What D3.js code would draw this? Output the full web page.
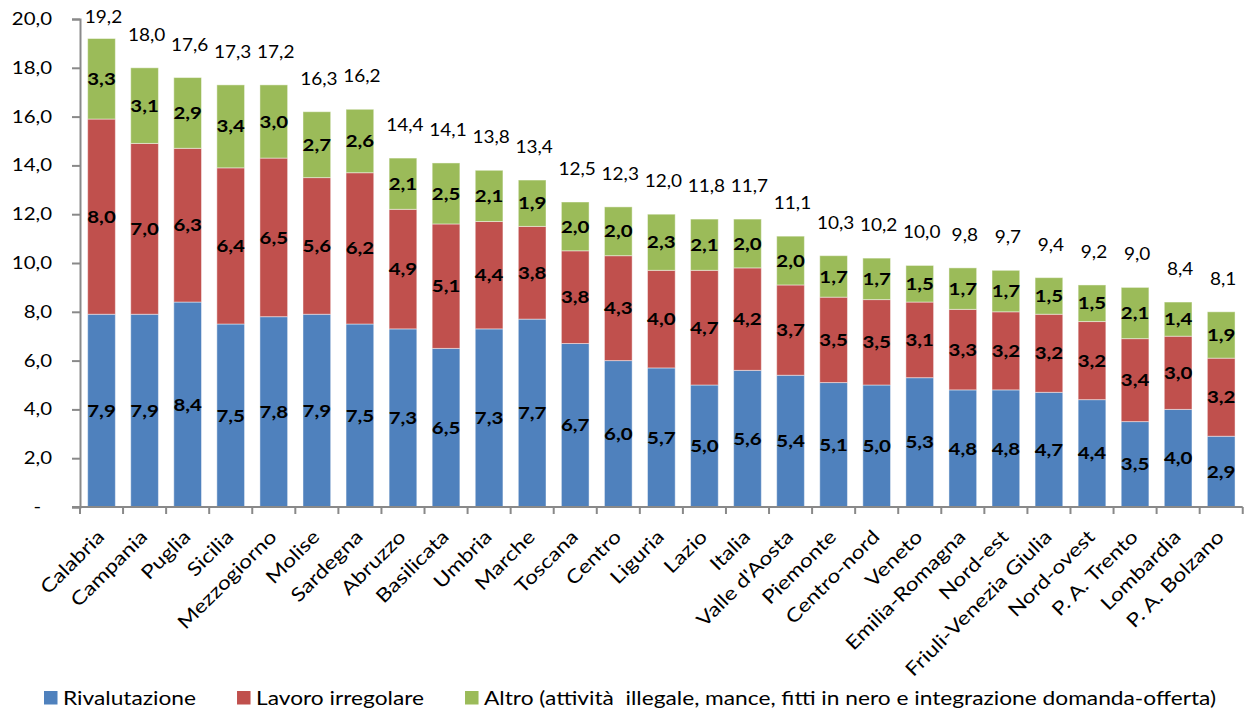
<!DOCTYPE html>
<html>
<head>
<meta charset="utf-8">
<script src="https://cdn.jsdelivr.net/npm/d3@7"></script>
<style>
  body { margin: 0; background: #fff; }
  svg { display: block; font-family: Lato, "Open Sans", sans-serif; }
</style>
</head>
<body>
<svg width="1245" height="713"></svg>
<script>
// Categorie
const categories = ["Calabria", "Campania", "Puglia", "Sicilia", "Mezzogiorno", "Molise", "Sardegna",
  "Abruzzo", "Basilicata", "Umbria", "Marche", "Toscana", "Centro", "Liguria", "Lazio", "Italia",
  "Valle d'Aosta", "Piemonte", "Centro-nord", "Veneto", "Emilia-Romagna", "Nord-est",
  "Friuli-Venezia Giulia", "Nord-ovest", "P. A. Trento", "Lombardia", "P. A. Bolzano"];

// Serie
const rivalutazione = [7.9, 7.9, 8.4, 7.5, 7.8, 7.9, 7.5, 7.3, 6.5, 7.3, 7.7, 6.7, 6.0, 5.7, 5.0, 5.6,
  5.4, 5.1, 5.0, 5.3, 4.8, 4.8, 4.7, 4.4, 3.5, 4.0, 2.9];
const lavoroIrregolare = [8.0, 7.0, 6.3, 6.4, 6.5, 5.6, 6.2, 4.9, 5.1, 4.4, 3.8, 3.8, 4.3, 4.0, 4.7, 4.2,
  3.7, 3.5, 3.5, 3.1, 3.3, 3.2, 3.2, 3.2, 3.4, 3.0, 3.2];
const altro = [3.3, 3.1, 2.9, 3.4, 3.0, 2.7, 2.6, 2.1, 2.5, 2.1, 1.9, 2.0, 2.0, 2.3, 2.1, 2.0,
  2.0, 1.7, 1.7, 1.5, 1.7, 1.7, 1.5, 1.5, 2.1, 1.4, 1.9];
const totali = [19.2, 18.0, 17.6, 17.3, 17.2, 16.3, 16.2, 14.4, 14.1, 13.8, 13.4, 12.5, 12.3, 12.0, 11.8,
  11.7, 11.1, 10.3, 10.2, 10.0, 9.8, 9.7, 9.4, 9.2, 9.0, 8.4, 8.1];

// Tick dell'asse y
const yTicks = [0, 2, 4, 6, 8, 10, 12, 14, 16, 18, 20];
const yTickLabels = ["-", "2,0", "4,0", "6,0", "8,0", "10,0", "12,0", "14,0", "16,0", "18,0", "20,0"];

const seriesNames = ["Rivalutazione", "Lavoro irregolare",
  "Altro (attività  illegale, mance, fitti in nero e integrazione domanda-offerta)"];
const seriesKeys = ["riv", "lav", "alt"];
const colors = ["#4f81bd", "#c0504d", "#9bbb59"];

const fmt = v => v.toFixed(1).replace(".", ",");

// il testo dell'originale è un po' allargato in orizzontale
function stretch(sel, sx) {
  sel.each(function () {
    const len = this.getComputedTextLength();
    this.setAttribute("textLength", len * sx);
    this.setAttribute("lengthAdjust", "spacingAndGlyphs");
  });
}

const data = categories.map((c, i) => ({
  cat: c, riv: rivalutazione[i], lav: lavoroIrregolare[i], alt: altro[i], tot: totali[i]
}));

const svg = d3.select("svg");
const margin = { left: 80, right: 2.3, top: 19, bottom: 206 };
const width = 1245, height = 713;
const axisColor = "#898989";

const x = d3.scaleBand()
  .domain(categories)
  .range([margin.left, width - margin.right])
  .paddingInner(0.357)
  .paddingOuter(0.178);

const y = d3.scaleLinear()
  .domain([0, 20])
  .range([height - margin.bottom, margin.top]);

const stacked = d3.stack().keys(seriesKeys)(data);

// Barre
const layers = svg.append("g")
  .selectAll("g")
  .data(stacked)
  .join("g")
  .attr("fill", (d, i) => colors[i]);

layers.selectAll("rect")
  .data(d => d)
  .join("rect")
  .attr("x", d => x(d.data.cat))
  .attr("y", d => y(d[1]))
  .attr("width", x.bandwidth())
  .attr("height", d => y(d[0]) - y(d[1]))
  .attr("stroke", "rgba(255,255,255,0.45)")
  .attr("stroke-width", 1);

// Etichette dei segmenti
layers.each(function (layer) {
  d3.select(this).selectAll("text")
    .data(layer)
    .join("text")
    .attr("x", d => x(d.data.cat) + x.bandwidth() / 2)
    .attr("y", d => (y(d[0]) + y(d[1])) / 2)
    .attr("dy", "0.36em")
    .attr("text-anchor", "middle")
    .attr("font-size", 17)
    .attr("font-weight", "bold")
    .attr("fill", "#000")
    .text(d => fmt(d.data[layer.key]))
    .call(stretch, 1.2);
});

// Totali
svg.append("g")
  .selectAll("text")
  .data(data)
  .join("text")
  .attr("x", d => x(d.cat) + x.bandwidth() / 2 + 2)
  .attr("y", d => Math.max(y(d.riv + d.lav + d.alt) - 33, 17))
  .attr("dy", "0.36em")
  .attr("text-anchor", "middle")
  .attr("font-size", 16.5)
  .attr("fill", "#000")
  .text(d => fmt(d.tot))
  .call(stretch, 1.15);

// Asse y
const yAxis = svg.append("g")
  .attr("transform", `translate(${margin.left},0)`)
  .call(d3.axisLeft(y)
    .tickValues(yTicks)
    .tickSize(8)
    .tickPadding(20)
    .tickFormat((d, i) => yTickLabels[i]));
yAxis.select(".domain").attr("stroke", axisColor).attr("stroke-width", 2);
yAxis.selectAll(".tick line").attr("stroke", axisColor).attr("stroke-width", 2);
yAxis.selectAll(".tick text")
  .attr("font-size", 17)
  .attr("font-family", "Lato, sans-serif")
  .attr("fill", "#000")
  .attr("dx", (d, i) => i === 0 ? -11 : 0)
  .call(stretch, 1.2);

// Asse x
const step = x.step();
const x0 = x.range()[0];
const xAxis = svg.append("g");
xAxis.append("line")
  .attr("x1", margin.left - 8)
  .attr("x2", width - margin.right)
  .attr("y1", y(0))
  .attr("y2", y(0))
  .attr("stroke", axisColor)
  .attr("stroke-width", 2);
xAxis.selectAll("line.tk")
  .data(d3.range(categories.length + 1))
  .join("line")
  .attr("class", "tk")
  .attr("x1", i => x0 + i * step)
  .attr("x2", i => x0 + i * step)
  .attr("y1", y(0))
  .attr("y2", y(0) + 7)
  .attr("stroke", axisColor)
  .attr("stroke-width", 2);

xAxis.selectAll("text")
  .data(categories)
  .join("text")
  .attr("transform", d => `translate(${x(d) + x.bandwidth() / 2 + 4},${y(0) + 31}) rotate(-45)`)
  .attr("text-anchor", "end")
  .attr("font-size", 19)
  .attr("fill", "#000")
  .text(d => d)
  .call(stretch, 1.2);

// Legenda
const legend = svg.append("g").attr("transform", "translate(44,0)");
let lx = 0;
seriesNames.forEach((name, i) => {
  legend.append("rect")
    .attr("x", lx)
    .attr("y", 691)
    .attr("width", 13.5)
    .attr("height", 13.5)
    .attr("fill", colors[i]);
  const t = legend.append("text")
    .attr("x", lx + 19)
    .attr("y", 705)
    .attr("font-size", 19.5)
    .attr("fill", "#000")
    .style("white-space", "pre")
    .text(name);
  const len = t.node().getComputedTextLength() * 1.165;
  t.attr("textLength", len).attr("lengthAdjust", "spacingAndGlyphs");
  lx += 19 + len + 41;
});
</script>
</body>
</html>
